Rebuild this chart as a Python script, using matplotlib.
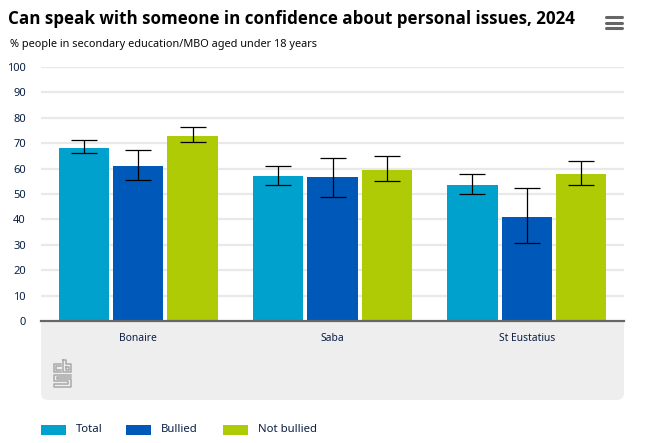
import numpy as np
import matplotlib
matplotlib.use("Agg")
import matplotlib.pyplot as plt
from matplotlib.patches import FancyBboxPatch, Rectangle

plt.rcParams['font.family'] = ['Noto Sans', 'DejaVu Sans']

W, H = 654, 443

places = ["Bonaire", "Saba", "St Eustatius"]
series = ["Total", "Bullied", "Not bullied"]
colors = ["#00a1cd", "#0058b8", "#afcb05"]
values = [[68.2, 57.2, 53.4], [61.0, 56.5, 40.8], [73.0, 59.5, 58.0]]
low = [[66.0, 53.5, 49.9], [55.5, 48.7, 30.6], [70.3, 55.0, 53.4]]
high = [[71.3, 61.0, 57.8], [67.3, 64.0, 52.2], [76.2, 65.0, 62.9]]
yticks = np.arange(0, 101, 10)

title = "Can speak with someone in confidence about personal issues, 2024"
subtitle = "% people in secondary education/MBO aged under 18 years"

fig = plt.figure(figsize=(W/100, H/100), dpi=100)

# full figure layer in pixels, for band, logo, menu and legend
bg = fig.add_axes([0, 0, 1, 1])
bg.set_xlim(0, W)
bg.set_ylim(H, 0)
bg.axis("off")

bg.add_patch(FancyBboxPatch((41, 312), 583, 88, boxstyle="round,pad=0,rounding_size=7",
                            fc="#eeeeee", ec="none", zorder=1))

ax = fig.add_axes([41/W, 1-321/H, 583/W, 254/H])
ax.set_ylim(0, 100)
ax.set_xlim(-0.5, 2.5)
ax.grid(False)
ax.set_yticks(yticks)
ax.set_yticklabels([str(v) for v in yticks])
for v in yticks[1:]:
    ax.axhline(v, color="#e9e9e9", lw=1.6, zorder=1)

x = np.arange(len(places))
step = 54.4/194.33
width = 50.5/194.33
for i, s in enumerate(series):
    pos = x + (i-1)*step
    vals = np.array(values[i])
    ax.bar(pos, vals, width, color=colors[i], linewidth=0, zorder=2)
    yerr = [vals-np.array(low[i]), np.array(high[i])-vals]
    ax.errorbar(pos, vals, yerr=yerr, fmt="none", ecolor="black", elinewidth=0.9,
                capsize=9.5, capthick=0.9, zorder=3)

for sp in ["top", "left", "right"]:
    ax.spines[sp].set_visible(False)
ax.spines["bottom"].set_color("#666666")
ax.spines["bottom"].set_linewidth(1.6)
ax.spines["bottom"].set_zorder(4)
ax.tick_params(axis="y", length=0, pad=11, labelsize=8, labelcolor="#0a1f44")
ax.tick_params(axis="x", length=0, pad=8.5, labelsize=7.4, labelcolor="#0a1f44")
ax.set_xticks(x)
ax.set_xticklabels(places)

# title
bg.text(8, 19, title, fontsize=12.27, family="Open Sans", fontweight="bold", color="#000000", va="center", ha="left")
bg.text(10, 44, subtitle, fontsize=7.88, color="#0a0a0a", va="center", ha="left")

# menu icon
for yy in [17, 22.5, 28]:
    bg.plot([605.5, 621.5], [yy, yy], color="#666666", lw=2.2, solid_capstyle="round")

# cbs logo
logo = "#a9a9a9"
logo_paths = [
    [(61, 363.5), (53.5, 363.5), (53.5, 372), (61, 372)],
    [(61, 366), (56, 366), (56, 369.5), (61, 369.5)],
    [(63, 359.5), (63, 372), (71, 372), (71, 363.5), (65.5, 363.5), (65.5, 359.5), (63, 359.5)],
    [(66, 366.5), (68.5, 366.5), (68.5, 369.5), (66, 369.5), (66, 366.5)],
    [(71, 374.5), (53.5, 374.5), (53.5, 381), (68, 381), (68, 384), (53.5, 384), (53.5, 387), (71, 387),
     (71, 378.5), (56.5, 378.5), (56.5, 377), (71, 377)],
]
for p in logo_paths:
    px, py = zip(*p)
    bg.plot(px, py, color=logo, lw=1.1, zorder=2)

# legend
leg_x = [41, 126, 223]
txt_x = [76, 161, 258.5]
for i, s in enumerate(series):
    bg.add_patch(Rectangle((leg_x[i], 425), 25, 10, fc=colors[i], ec="none"))
    bg.text(txt_x[i], 429.5, s, fontsize=8.2, color="#0a1f44", va="center", ha="left")

fig.savefig("out.png", dpi=100)
